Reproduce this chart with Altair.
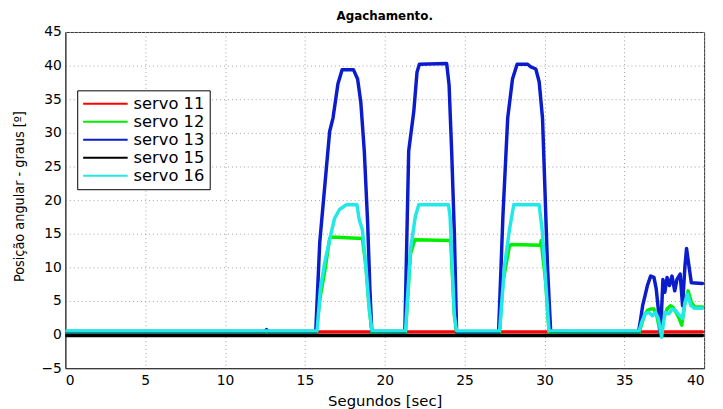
import altair as alt
import pandas as pd

# ---- data ----
series_names = ["servo 11", "servo 12", "servo 13", "servo 15", "servo 16"]
series_colors = ["#ff0000", "#00ee00", "#0a1ccc", "#000000", "#22e8e8"]

t11 = [0, 15.7, 15.8, 39.9]
v11 = [0.2, 0.2, 0.4, 0.4]

t15 = [0, 39.9]
v15 = [-0.15, -0.15]

t12 = [0, 15.7, 15.95, 16.25, 16.55, 16.65, 18.6, 18.82, 19.03, 19.2,
       21.3, 21.61, 21.88, 24.13, 24.36, 24.5,
       27.19, 27.4, 27.81, 27.95, 29.75, 29.8, 29.88, 30.08, 30.29,
       35.93, 36.25, 36.45, 36.65, 36.86, 37.06, 37.27, 37.47, 37.68, 37.89,
       38.03, 38.24, 38.4, 38.6, 38.8, 39.0, 39.2, 39.4, 39.9]
v12 = [0.15, 0.15, 5.5, 9.5, 14.3, 14.5, 14.3, 10.2, 3.9, 0.3,
       0.3, 12.0, 14.1, 14.0, 2.9, 0.3,
       0.3, 7.8, 13.2, 13.4, 13.3, 14.0, 12.0, 7.8, 0.3,
       0.3, 2.8, 3.6, 3.8, 3.8, 2.6, 0.0, 2.4, 3.8, 4.3,
       4.1, 3.3, 2.6, 1.4, 4.8, 6.5, 4.8, 4.1, 4.1]

t13 = [0, 12.5, 12.6, 12.7, 15.68, 15.93, 16.55, 16.76, 17.07, 17.33, 18.04,
       18.3, 18.5, 18.72, 18.93, 19.07, 19.19,
       21.26, 21.5, 21.82, 22.02, 22.17, 23.88, 24.03, 24.19, 24.36, 24.5,
       27.13, 27.4, 27.7, 28.0, 28.29, 28.95, 29.15, 29.46, 29.67, 29.88,
       30.02, 30.19, 30.39,
       35.9, 36.0, 36.15, 36.3, 36.45, 36.65, 36.86, 37.0, 37.13, 37.27,
       37.42, 37.54, 37.68, 37.83, 37.99, 38.16, 38.3, 38.5, 38.65, 38.8,
       38.9, 39.05, 39.2, 39.9]
v13 = [0.45, 0.45, 0.75, 0.45, 0.45, 13.7, 30.2, 32.2, 37.3, 39.4, 39.4,
       38.0, 34.6, 27.3, 16.6, 6.8, 0.5,
       0.45, 27.3, 33.2, 39.0, 40.2, 40.3, 37.1, 27.3, 15.1, 0.4,
       0.4, 17.6, 32.2, 38.0, 40.2, 40.2, 39.8, 39.5, 37.6, 32.2,
       22.4, 10.2, 0.5,
       0.45, 1.9, 4.3, 5.8, 7.3, 8.7, 8.5, 6.8, 3.8, -0.1,
       8.2, 6.3, 8.5, 7.3, 8.7, 6.5, 8.2, 9.0, 4.3, 10.2,
       12.8, 10.2, 7.7, 7.6]

t16 = [0, 15.76, 15.97, 16.24, 16.55, 16.86, 17.17, 17.58, 18.26, 18.4, 18.6,
       18.82, 19.03, 19.2,
       21.3, 21.61, 21.92, 22.13, 23.99, 24.09, 24.36, 24.5,
       27.19, 27.5, 27.81, 28.08, 29.67, 29.88, 30.08, 30.29,
       35.93, 36.1, 36.3, 36.55, 36.76, 36.96, 37.13, 37.34, 37.54, 37.8,
       38.0, 38.2, 38.4, 38.65, 38.8, 38.97, 39.17, 39.4, 39.9]
v16 = [0.55, 0.55, 6.8, 10.7, 14.1, 17.3, 18.6, 19.3, 19.3, 17.1, 15.6,
       10.2, 3.9, 0.55,
       0.55, 12.7, 17.6, 19.3, 19.3, 17.6, 2.9, 0.55,
       0.55, 10.2, 15.6, 19.3, 19.3, 15.1, 7.8, 0.55,
       0.55, 1.9, 3.1, 3.3, 2.8, 3.3, 2.4, -0.4, 3.3, 3.1,
       3.8, 3.6, 3.0, 2.4, 4.8, 6.0, 4.3, 3.9, 3.9]

x_ticks = [0, 5, 10, 15, 20, 25, 30, 35, 40]
y_ticks = [-5, 0, 5, 10, 15, 20, 25, 30, 35, 40, 45]

# ---- build long table ----
rows = []
for name, ts, vs in [("servo 11", t11, v11), ("servo 12", t12, v12),
                     ("servo 13", t13, v13), ("servo 15", t15, v15),
                     ("servo 16", t16, v16)]:
    for i, (t, v) in enumerate(zip(ts, vs)):
        rows.append({"t": t, "v": v, "servo": name, "i": i})
df = pd.DataFrame(rows)

grid = dict(gridColor="#a0a0a0", gridDash=[1, 3], gridWidth=1, gridOpacity=1)

chart = alt.Chart(df).mark_line(strokeWidth=3.5, clip=True,
                                strokeJoin="round", strokeCap="round").encode(
    x=alt.X("t:Q", scale=alt.Scale(domain=[0, 40], nice=False),
            axis=alt.Axis(values=x_ticks, title="Segundos [sec]", ticks=False,
                          labelPadding=6, titleY=38, titleBaseline="alphabetic",
                          **grid)),
    y=alt.Y("v:Q", scale=alt.Scale(domain=[-5, 45], nice=False),
            axis=alt.Axis(values=y_ticks, title="Posição angular - graus [º]",
                          ticks=False, labelPadding=4,
                          titleX=-46, titleY=166, titleAngle=270,
                          titleAlign="center", titleBaseline="middle",
                          titleFont="Liberation Sans Narrow, DejaVu Sans Condensed, Liberation Sans",
                          titleFontSize=14.5, titleFontWeight="normal",
                          **grid)),
    color=alt.Color("servo:N",
                    scale=alt.Scale(domain=series_names, range=series_colors),
                    legend=alt.Legend(title=None, orient="none",
                                      legendX=12, legendY=59,
                                      symbolType="M-1,0H5",
                                      symbolSize=225, symbolStrokeWidth=2,
                                      labelOffset=35, labelFontSize=16.5,
                                      labelFont="DejaVu Sans",
                                      rowPadding=1.2, padding=5,
                                      strokeColor="#000", fillColor="#fff")),
    order="i:Q",
).properties(
    width=646, height=340,
    title=alt.TitleParams("Agachamento.", font="DejaVu Sans", fontSize=12,
                          fontWeight="bold", anchor="middle", frame="group",
                          baseline="alphabetic", offset=10, dy=17,
                          color="#000"),
    autosize=alt.AutoSizeParams(type="none"),
    padding={"left": 58, "top": 22, "right": 11, "bottom": 39},
).configure_view(
    stroke="#333", strokeWidth=1
).configure_axis(
    labelFont="DejaVu Sans", labelFontSize=14, labelColor="#000",
    titleFont="DejaVu Sans", titleFontSize=15, titleFontWeight="normal",
    titleColor="#000", domainColor="#333"
)

chart.save("out.html", embed_options={"renderer": "svg", "actions": False})
